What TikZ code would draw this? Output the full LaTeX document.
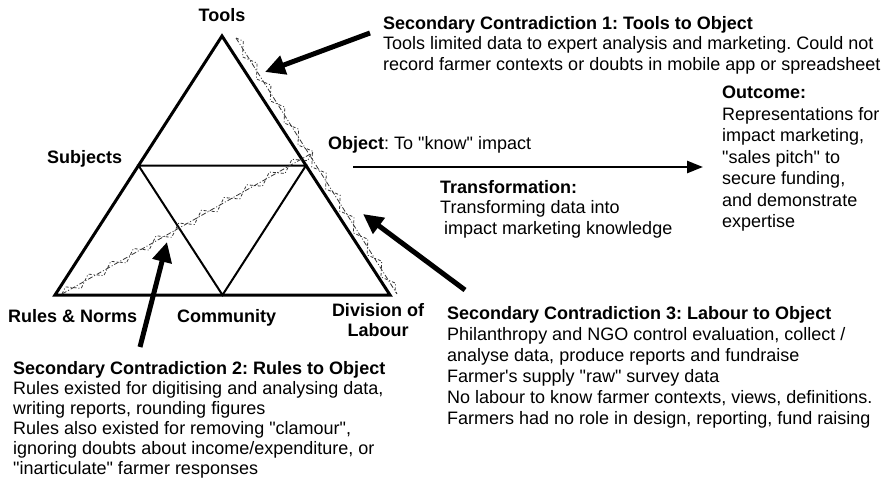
\documentclass[tikz,border=0pt]{standalone}
\usepackage{fontspec}
\setmainfont{Liberation Sans}
\usetikzlibrary{positioning,arrows.meta,decorations.pathmorphing}
\newcommand{\dq}{\textquotedbl}

\tikzset{
  lbl/.style={font=\fontsize{18}{20}\selectfont\bfseries, inner sep=0pt},
  txt/.style={font=\fontsize{18}{20.5}\selectfont, align=left, inner sep=0pt, anchor=north west},
  outer/.style={line width=3pt},
  inner/.style={line width=2pt},
  contra/.style={dash pattern=on 5pt off 2pt on 1pt off 2pt, line width=0.8pt, black!80},
  zig/.style={contra, dash pattern=on 3pt off 2pt on 1pt off 2pt, decorate, decoration={zigzag, segment length=26pt, amplitude=4.5pt}},
  pointer/.style={line width=5pt, -{Triangle[length=20pt,width=19pt]}},
  flow/.style={line width=2.5pt, -{Triangle[length=16pt,width=12pt]}},
}

\begin{document}
\frenchspacing
\begin{tikzpicture}[x=1pt,y=-1pt]
        \useasboundingbox (0,0) rectangle (883,479);
        % Corners
        \coordinate (tools) at (222,36);
        \coordinate (rules) at (55,295);
        \coordinate (labour) at (390,295);
        \coordinate (subj) at (138.5,165.5);
        \coordinate (obj) at (306,165.5);
        \coordinate (comm) at (222.5,295);

        % Triangles
        \draw[outer] (tools) -- (rules) -- (labour) -- cycle;
        \draw[inner] (subj) -- (obj) -- (comm) -- cycle;

        % Contradiction lines
        \coordinate (c1a) at (236,38);
        \coordinate (c1b) at (397,294);
        \coordinate (c2a) at (62,294);
        \coordinate (c2b) at (314,152);
        \draw[contra] (c1a) -- (c1b);
        \draw[zig] (c1a) -- (c1b);
        \draw[contra] (c2a) -- (c2b);
        \draw[zig] (c2a) -- (c2b);

        % Labels
        \node[lbl, anchor=base] (toolslbl) at (222,21) {Tools};
        \node[lbl, anchor=base west] (subjlbl) at (47,163) {Subjects};
        \node[lbl, anchor=base west] (ruleslbl) at (8,322) {Rules \& Norms};
        \node[lbl, anchor=base west] (commlbl) at (177,322) {Community};
        \node[lbl, align=center, anchor=north] (labourlbl) at (378,303) {Division of\\Labour};
        \node[txt, anchor=base west] (objlbl) at (328,149) {\textbf{Object}: To \dq know\dq\ impact};

        % Text blocks
        \node[txt] (con1) at (383,16) {\textbf{Secondary Contradiction 1: Tools to Object}\\
            Tools limited data to expert analysis and marketing. Could not\\
            record farmer contexts or doubts in mobile app or spreadsheet};
        \node[txt] (transf) at (440,180) {\textbf{Transformation:}\\
            Transforming data into\\
            \hspace*{4pt}impact marketing knowledge};
        \node[txt, font=\fontsize{18}{21.5}\selectfont] (outcome) at (722,86) {\textbf{Outcome:}\\
            Representations for\\
            impact marketing,\\
            \dq sales pitch\dq\ to\\
            secure funding,\\
            and demonstrate\\
            expertise};
        \node[txt, font=\fontsize{18}{20}\selectfont] (con2) at (13,361) {\textbf{Secondary Contradiction 2: Rules to Object}\\
            Rules existed for digitising and analysing data,\\
            writing reports, rounding figures\\
            Rules also existed for removing \dq clamour\dq ,\\
            ignoring doubts about income/expenditure, or\\
            \dq inarticulate\dq\ farmer responses};
        \node[txt, font=\fontsize{18}{21}\selectfont] (con3) at (447,306) {\textbf{Secondary Contradiction 3: Labour to Object}\\
            Philanthropy and NGO control evaluation, collect /\\
            analyse data, produce reports and fundraise\\
            Farmer\textquotesingle s supply \dq raw\dq\ survey data\\
            No labour to know farmer contexts, views, definitions.\\
            Farmers had no role in design, reporting, fund raising};

        % Arrows
        \coordinate (p1) at (370,33);
        \coordinate (q1) at (265,72);
        \coordinate (p2) at (140,347);
        \coordinate (q2) at (167,242);
        \coordinate (p3) at (465,290);
        \coordinate (q3) at (363,214);
        \coordinate (flowa) at (353,167);
        \coordinate (flowb) at (703,167);
        \draw[pointer] (p1) -- (q1);
        \draw[pointer] (p2) -- (q2);
        \draw[pointer] (p3) -- (q3);
        \draw[flow] (flowa) -- (flowb);
\end{tikzpicture}
\end{document}
